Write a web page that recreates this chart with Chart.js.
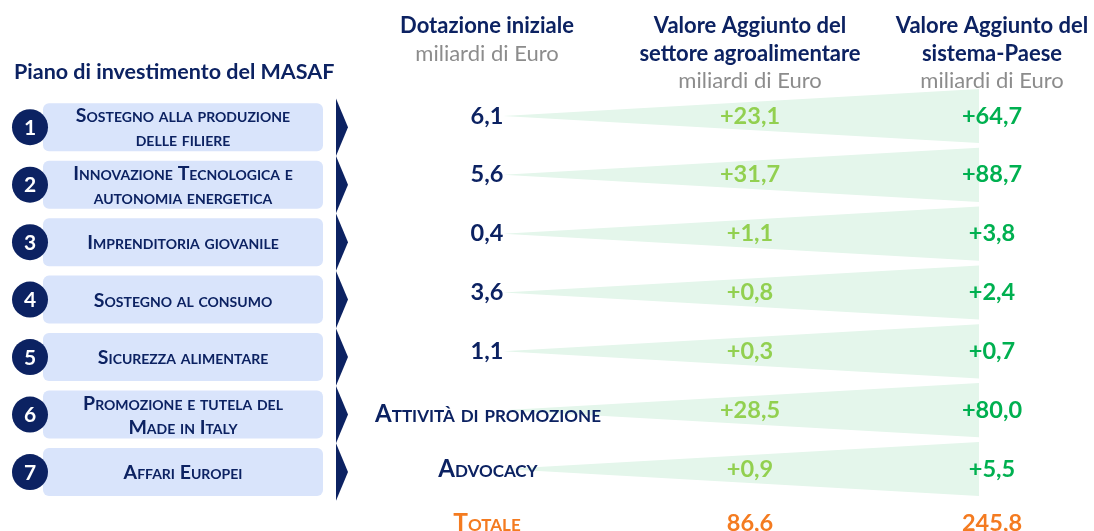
<!DOCTYPE html>
<html>
<head>
<meta charset="utf-8">
<title>Piano di investimento del MASAF</title>
<script src="https://cdn.jsdelivr.net/npm/chart.js@4"></script>
<style>
  html, body { margin: 0; padding: 0; background: #fff; }
  #wrap { width: 1094px; height: 531px; }
</style>
</head>
<body>
<div id="wrap"><canvas id="c"></canvas></div>
<script>
// --- data ---
const areas = [
  ['Sostegno alla produzione', 'delle filiere'],
  ['Innovazione Tecnologica e', 'autonomia energetica'],
  ['Imprenditoria giovanile'],
  ['Sostegno al consumo'],
  ['Sicurezza alimentare'],
  ['Promozione e tutela del', 'Made in Italy'],
  ['Affari Europei']
];
const dotazione = [6.1, 5.6, 0.4, 3.6, 1.1, null, null];      // miliardi di Euro
const dotazioneText = [null, null, null, null, null, 'Attività di promozione', 'Advocacy'];
const vaAgro = [23.1, 31.7, 1.1, 0.8, 0.3, 28.5, 0.9];       // settore agroalimentare
const vaPaese = [64.7, 88.7, 3.8, 2.4, 0.7, 80.0, 5.5];      // sistema-Paese
const totali = [86.6, 245.8];
const headers = [
  ['Dotazione iniziale'],
  ['Valore Aggiunto del', 'settore agroalimentare'],
  ['Valore Aggiunto del', 'sistema-Paese']
];
const unit = 'miliardi di Euro';

// --- look ---
const NAVY = '#0c2262';
const LIGHT_GREEN = '#92d050';
const GREEN = '#00b050';
const ORANGE = '#f47b20';
const GREY = '#8c8c8c';
const BOX = '#d9e4fb';
const WEDGE_FILL = '#e4f6eb';
const FAM = 'Lato, "Source Sans Pro", "Noto Sans", sans-serif';

const COLX = [487, 750, 992];          // column centres (x scale units)
const WEDGE = { x0: 503, x1: 979, half: 0.46 };

const fmt = v => v.toLocaleString('it-IT', { minimumFractionDigits: 1, maximumFractionDigits: 1 });

// one wedge per row: upper edge + lower edge filled between
const wedgeSets = [];
vaAgro.forEach((v, i) => {
  wedgeSets.push({
    data: [{ x: WEDGE.x0, y: i }, { x: WEDGE.x1, y: i - WEDGE.half }],
    borderWidth: 0, pointRadius: 0, fill: false, backgroundColor: WEDGE_FILL
  });
  wedgeSets.push({
    data: [{ x: WEDGE.x0, y: i }, { x: WEDGE.x1, y: i + WEDGE.half }],
    borderWidth: 0, pointRadius: 0, fill: '-1', backgroundColor: WEDGE_FILL
  });
});

function txt(ctx, s, x, y, size, weight, color, align, caps) {
  ctx.font = (caps ? 'small-caps ' : '') + weight + ' ' + size + 'px ' + FAM;
  if ('fontVariantCaps' in ctx) ctx.fontVariantCaps = caps ? 'small-caps' : 'normal';
  ctx.fillStyle = color;
  ctx.textAlign = align || 'center';
  ctx.textBaseline = 'middle';
  ctx.fillText(s, x, y);
}

const masafPlugin = {
  id: 'masaf',
  beforeDatasetsDraw(chart) {
    const ctx = chart.ctx, ys = chart.scales.y;
    ctx.save();
    txt(ctx, 'Piano di investimento del MASAF', 14, 72, 21.5, 700, NAVY, 'left');
    areas.forEach((lines, i) => {
      const cy = ys.getPixelForValue(0.19 + i * 0.977);
      // box
      ctx.fillStyle = BOX;
      ctx.beginPath();
      ctx.roundRect(43, cy - 24, 280, 48, 6);
      ctx.fill();
      // number disc
      ctx.fillStyle = NAVY;
      ctx.beginPath();
      ctx.arc(30, cy, 18, 0, Math.PI * 2);
      ctx.fill();
      txt(ctx, String(i + 1), 30, cy + 1, 21, 700, '#fff');
      // chevron
      ctx.fillStyle = NAVY;
      ctx.beginPath();
      ctx.moveTo(336, cy - 28.7);
      ctx.lineTo(348, cy);
      ctx.lineTo(336, cy + 28.7);
      ctx.closePath();
      ctx.fill();
      // label
      if (lines.length === 1) {
        txt(ctx, lines[0], 183, cy + 1, 19.5, 700, NAVY, 'center', true);
      } else {
        txt(ctx, lines[0], 183, cy - 11, 19.5, 700, NAVY, 'center', true);
        txt(ctx, lines[1], 183, cy + 13, 19.5, 700, NAVY, 'center', true);
      }
    });
    ctx.restore();
  },
  afterDatasetsDraw(chart) {
    const ctx = chart.ctx, xs = chart.scales.x, ys = chart.scales.y;
    ctx.save();
    // headers
    headers.forEach((lines, c) => {
      const x = xs.getPixelForValue(COLX[c]);
      lines.forEach((l, k) => txt(ctx, l, x, 26 + k * 27.5, 22, 700, NAVY));
      txt(ctx, unit, x, 26 + lines.length * 27.5, 22, 400, GREY);
    });
    // rows
    vaAgro.forEach((v, i) => {
      const y = ys.getPixelForValue(i);
      if (dotazione[i] != null) {
        txt(ctx, fmt(dotazione[i]), xs.getPixelForValue(COLX[0]), y, 23.5, 700, NAVY);
      } else {
        txt(ctx, dotazioneText[i], xs.getPixelForValue(COLX[0]) + 1, y + (i === 5 ? 4 : 0), 24, 700, NAVY, 'center', true);
      }
      txt(ctx, '+' + fmt(v), xs.getPixelForValue(COLX[1]), y, 23.5, 700, LIGHT_GREEN);
      txt(ctx, '+' + fmt(vaPaese[i]), xs.getPixelForValue(COLX[2]), y, 23.5, 700, GREEN);
    });
    const yt = ys.getPixelForValue(6.92);
    txt(ctx, 'Totale', xs.getPixelForValue(COLX[0]), yt, 24.5, 700, ORANGE, 'center', true);
    txt(ctx, fmt(totali[0]), xs.getPixelForValue(COLX[1]), yt, 23.5, 700, ORANGE);
    txt(ctx, fmt(totali[1]), xs.getPixelForValue(COLX[2]), yt, 23.5, 700, ORANGE);
    ctx.restore();
  }
};

new Chart(document.getElementById('c'), {
  type: 'line',
  data: { datasets: wedgeSets },
  options: {
    responsive: true,
    maintainAspectRatio: false,
    animation: false,
    events: [],
    layout: { padding: 0 },
    plugins: { legend: { display: false }, tooltip: { enabled: false } },
    scales: {
      x: { type: 'linear', min: 0, max: 1094, display: false },
      y: { type: 'linear', min: -1.972, max: 7.054, reverse: true, display: false }
    }
  },
  plugins: [masafPlugin]
});
</script>
</body>
</html>
